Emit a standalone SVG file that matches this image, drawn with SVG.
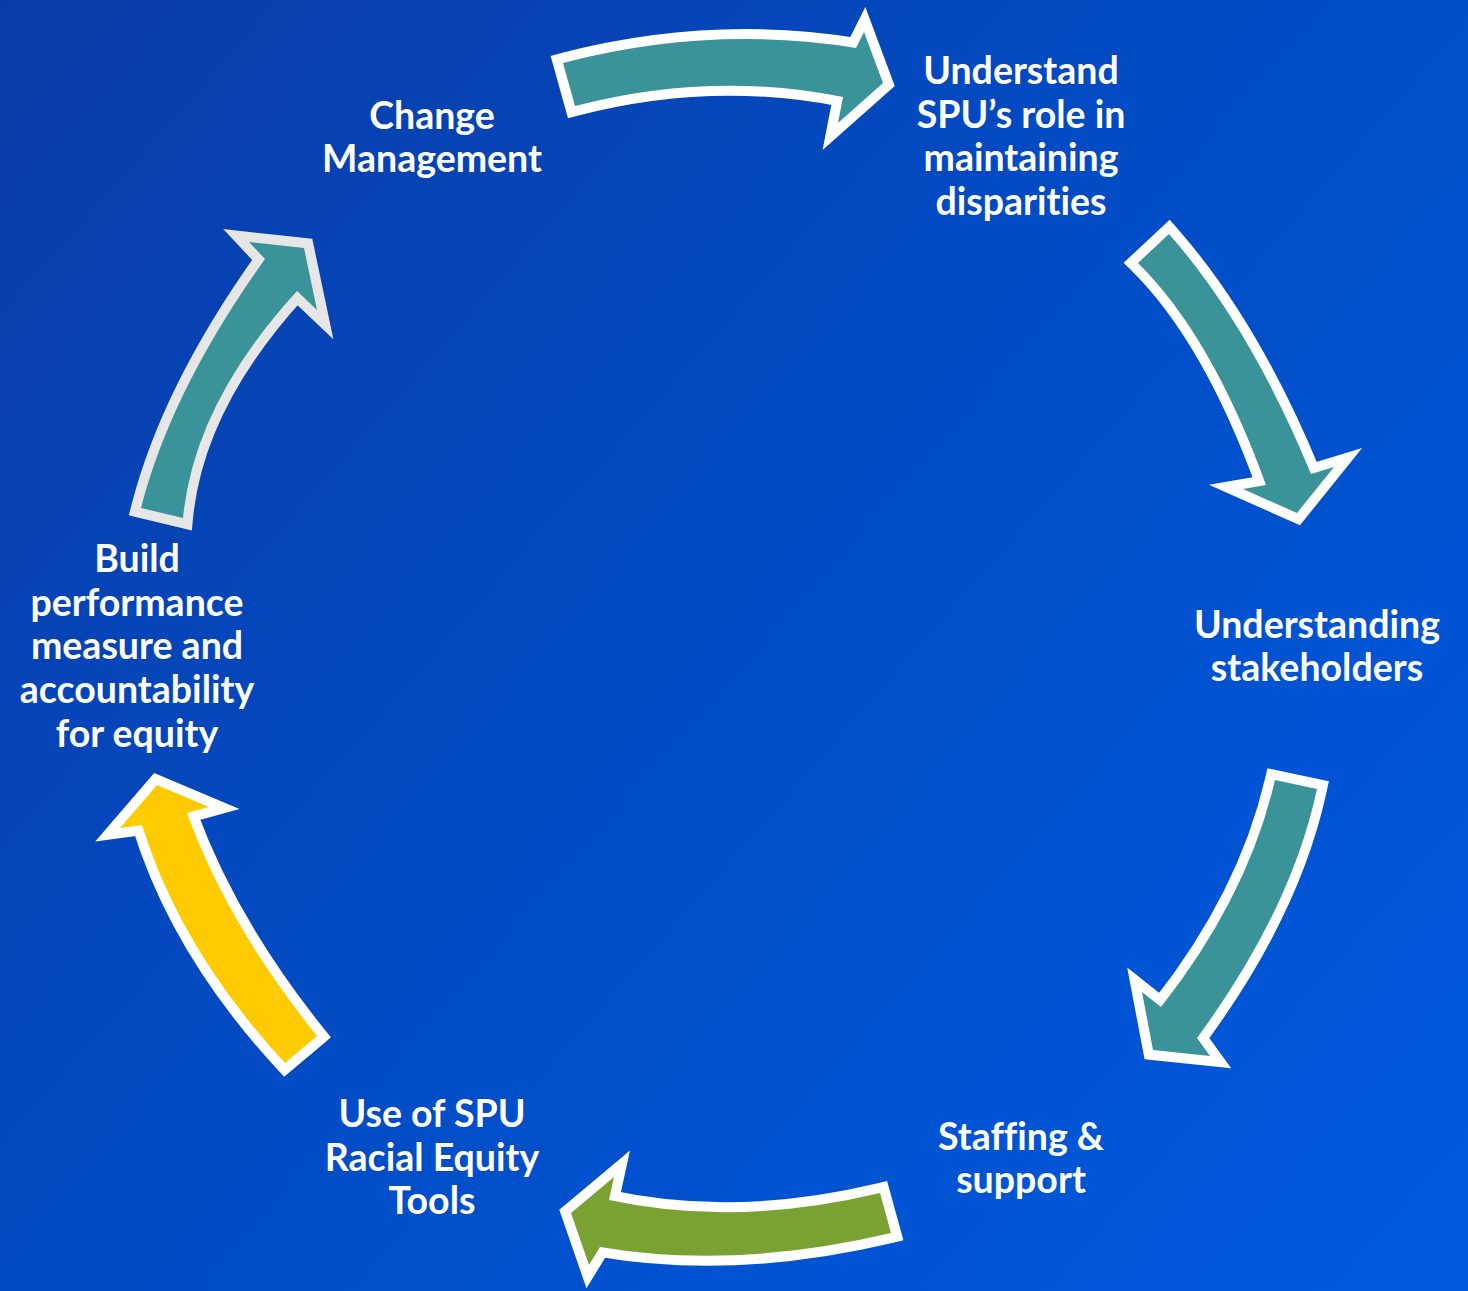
<svg xmlns="http://www.w3.org/2000/svg" width="1468" height="1291" viewBox="0 0 1468 1291">
<defs>
<linearGradient id="bg" x1="0" y1="0" x2="1468" y2="1291" gradientUnits="userSpaceOnUse">
<stop offset="0" stop-color="#0a3ca6"/>
<stop offset="0.5" stop-color="#014cc6"/>
<stop offset="1" stop-color="#005bdf"/>
</linearGradient>
<style>
.arr{stroke:#ffffff;stroke-width:20;paint-order:stroke;stroke-linejoin:miter;stroke-miterlimit:10}
.teal{fill:#3a9399}
.green{fill:#7aa232}
.yellow{fill:#fecb00}
.gray{stroke:#e6e6e6}
.lbl{font-family:Lato,"Open Sans","Liberation Sans",sans-serif;font-weight:bold;font-size:37.5px;fill:#ffffff;text-anchor:middle;font-variant-ligatures:none;font-feature-settings:"liga" 0,"dlig" 0}
</style>
</defs>
<rect x="0" y="0" width="1468" height="1291" fill="url(#bg)"/>
<g id="connectors">
<path id="arrow1" class="arr teal" d="M563,63 Q710.5,24.5 856,48 L864,32 L883,83 L838,123 L843,97 Q711,70.5 575,106 Z"/>
<path id="arrow2" class="arr teal" d="M1138,263 L1169,234 Q1250,326 1311,474 L1334,467 L1297,513 L1243,489 L1266,485 Q1212,336 1138,263 Z"/>
<path id="arrow3" class="arr teal" d="M1275,780 L1317,789 Q1291,910.5 1197,1038 L1210,1056 L1153,1050 L1142,992 L1161,1007 Q1248,896.5 1275,780 Z"/>
<path id="arrow4" class="arr green" d="M880,1193 L891,1233 Q734.5,1270 600,1247 L589,1265 L571,1213 L614,1177 L609,1200 Q735.5,1227.5 880,1193 Z"/>
<path id="arrow5" class="arr yellow" d="M317,1036 L285,1063 Q180.5,950 142,825 L120,828 L157,785 L209,807 L187,813 Q228,925.5 317,1036 Z"/>
<path id="arrow6" class="arr teal gray" d="M141,508 L183,518 Q194,403.5 297,291 L317,310 L304,248 L249,242 L265,259 Q171,390.5 141,508 Z"/>
</g>
<g id="node-change">
<text class="lbl" x="432" y="129">Change</text>
<text class="lbl" x="432" y="172">Management</text>
</g>
<g id="node-understand">
<text class="lbl" x="1021" y="84">Understand</text>
<text class="lbl" x="1021" y="128">SPU’s role in</text>
<text class="lbl" x="1021" y="171">maintaining</text>
<text class="lbl" x="1021" y="215">disparities</text>
</g>
<g id="node-stakeholders">
<text class="lbl" x="1317" y="638">Understanding</text>
<text class="lbl" x="1317" y="681">stakeholders</text>
</g>
<g id="node-staffing">
<text class="lbl" x="1021" y="1150">Staffing &amp;</text>
<text class="lbl" x="1021" y="1193">support</text>
</g>
<g id="node-tools">
<text class="lbl" x="432" y="1127">Use of SPU</text>
<text class="lbl" x="432" y="1171">Racial Equity</text>
<text class="lbl" x="432" y="1214">Tools</text>
</g>
<g id="node-build">
<text class="lbl" x="137" y="572">Build</text>
<text class="lbl" x="137" y="616">performance</text>
<text class="lbl" x="137" y="659">measure and</text>
<text class="lbl" x="137" y="703">accountability</text>
<text class="lbl" x="137" y="747">for equity</text>
</g>
</svg>
